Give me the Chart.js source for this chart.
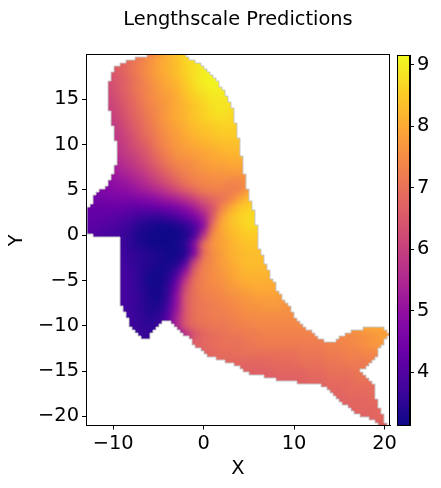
<!DOCTYPE html>
<html>
<head>
    <title>Lengthscale Predictions</title>
    <script src="https://cdn.jsdelivr.net/npm/chart.js"></script>
    <style>
        html, body { margin: 0; padding: 0; background: #fff; }
        .plot { position: relative; width: 441px; height: 488px; overflow: hidden; }
        canvas { position: absolute; left: 0; top: 0; }
    </style>
</head>
<body>
    <div class="plot">
        <canvas id="field" width="441" height="488"></canvas>
        <canvas id="colorbar" width="441" height="488"></canvas>
    </div>

    <script>
        const xTicks = [-10, 0, 10, 20];
        const yTicks = [-20, -15, -10, -5, 0, 5, 10, 15];
        const barTicks = [4, 5, 6, 7, 8, 9];
        const valueMin = 3.13;
        const valueMax = 9.16;

        // plasma colormap, evenly spaced stops
        const plasma = ['#0d0887', '#41049d', '#6a00a8', '#8f0da4', '#b12a90', '#cc4778', '#e16462', '#f2844b', '#fca636', '#fcce25', '#f0f921'];

        // predictions: one row per y, first value sits at rowStart
        const rowY = [20, 19, 18, 17, 16, 15, 14, 13, 12, 11, 10, 9, 8, 7, 6, 5, 4, 3, 2, 1, 0, -1, -2, -3, -4, -5, -6, -7, -8, -9, -10, -11, -12, -13, -14, -15, -16, -17, -18, -19, -20, -21];
        const rowStart = [-7, -10, -11, -11, -11, -11, -11, -11, -11, -11, -11, -11, -11, -11, -13, -13, -13, -13, -13, -13, -13, -13, -10, -10, -10, -10, -10, -10, -10, -10, -9, -8, -7, -2, 0, 2, 4, 9, 13, 14, 16, 18];
        const rowValues = [
            [6.9, 7.3, 7.7, 8.1, 8.4, 8.7, 8.9],
            [6.6, 6.8, 7.0, 7.3, 7.6, 7.9, 8.1, 8.3, 8.6, 8.8, 9.0, 9.0],
            [6.3, 6.5, 6.7, 7.0, 7.3, 7.6, 7.9, 8.1, 8.3, 8.6, 8.8, 9.0, 9.1, 9.1],
            [6.2, 6.4, 6.6, 6.9, 7.2, 7.5, 7.8, 8.0, 8.2, 8.5, 8.8, 9.0, 9.1, 9.1, 9.0],
            [6.1, 6.3, 6.6, 6.9, 7.2, 7.4, 7.7, 7.9, 8.1, 8.4, 8.7, 8.9, 9.0, 9.0, 8.9],
            [6.0, 6.2, 6.5, 6.8, 7.1, 7.4, 7.6, 7.8, 8.0, 8.3, 8.5, 8.7, 8.9, 8.9, 8.9, 8.8],
            [5.9, 6.1, 6.4, 6.7, 7.0, 7.3, 7.5, 7.8, 8.0, 8.2, 8.4, 8.6, 8.8, 8.9, 8.8, 8.7],
            [5.8, 6.0, 6.3, 6.6, 6.9, 7.2, 7.5, 7.8, 8.0, 8.2, 8.4, 8.6, 8.7, 8.8, 8.7, 8.7, 8.6],
            [5.7, 5.9, 6.1, 6.5, 6.8, 7.1, 7.4, 7.7, 7.9, 8.1, 8.3, 8.4, 8.5, 8.6, 8.6, 8.5, 8.5],
            [5.6, 5.8, 6.0, 6.3, 6.7, 7.0, 7.3, 7.6, 7.8, 8.0, 8.2, 8.3, 8.4, 8.5, 8.5, 8.5, 8.4],
            [5.5, 5.7, 5.9, 6.2, 6.5, 6.8, 7.2, 7.5, 7.7, 7.9, 8.0, 8.1, 8.2, 8.3, 8.3, 8.3, 8.3],
            [5.4, 5.6, 5.8, 6.0, 6.3, 6.6, 7.0, 7.3, 7.6, 7.7, 7.8, 7.9, 8.0, 8.1, 8.2, 8.2, 8.2],
            [5.3, 5.4, 5.6, 5.8, 6.1, 6.4, 6.8, 7.1, 7.4, 7.5, 7.6, 7.8, 7.9, 7.9, 8.0, 8.0, 8.0, 8.0],
            [5.1, 5.2, 5.4, 5.6, 5.8, 6.1, 6.5, 6.8, 7.1, 7.3, 7.5, 7.6, 7.7, 7.7, 7.8, 7.8, 7.7, 7.7],
            [4.8, 4.8, 4.8, 5.0, 5.1, 5.3, 5.5, 5.8, 6.1, 6.4, 6.8, 7.1, 7.3, 7.4, 7.5, 7.5, 7.4, 7.4, 7.6, 7.7],
            [4.6, 4.6, 4.7, 4.8, 4.9, 5.0, 5.2, 5.4, 5.6, 5.9, 6.3, 6.6, 6.9, 7.2, 7.3, 7.3, 7.2, 7.3, 7.7, 8.1],
            [4.5, 4.5, 4.5, 4.6, 4.6, 4.6, 4.7, 4.8, 5.0, 5.2, 5.4, 5.7, 6.1, 6.5, 6.8, 7.0, 7.3, 7.9, 8.3, 8.4],
            [4.3, 4.3, 4.3, 4.3, 4.3, 4.2, 4.2, 4.2, 4.3, 4.4, 4.6, 4.9, 5.3, 5.9, 6.4, 7.3, 8.0, 8.4, 8.6, 8.6],
            [4.2, 4.2, 4.2, 4.1, 4.0, 3.9, 3.7, 3.6, 3.6, 3.7, 3.9, 4.2, 4.6, 5.2, 6.5, 7.8, 8.3, 8.6, 8.7, 8.7],
            [4.1, 4.1, 4.0, 3.9, 3.8, 3.6, 3.4, 3.3, 3.2, 3.2, 3.3, 3.5, 3.9, 4.8, 7.0, 8.0, 8.3, 8.5, 8.7, 8.7, 8.5],
            [4.1, 4.0, 3.9, 3.8, 3.7, 3.5, 3.3, 3.2, 3.15, 3.13, 3.15, 3.3, 3.8, 5.6, 7.5, 7.9, 8.2, 8.4, 8.5, 8.5, 8.4],
            [4.0, 3.9, 3.9, 3.8, 3.7, 3.5, 3.3, 3.2, 3.15, 3.13, 3.2, 3.5, 4.8, 7.0, 7.6, 7.9, 8.1, 8.3, 8.4, 8.4, 8.3, 8.2],
            [3.8, 3.7, 3.6, 3.5, 3.4, 3.3, 3.2, 3.2, 3.4, 4.6, 6.9, 7.5, 7.8, 8.1, 8.2, 8.3, 8.3, 8.3, 8.2],
            [3.8, 3.8, 3.6, 3.5, 3.4, 3.3, 3.2, 3.3, 3.9, 6.1, 7.2, 7.5, 7.8, 8.0, 8.2, 8.3, 8.3, 8.2, 8.1],
            [3.9, 3.8, 3.7, 3.5, 3.3, 3.2, 3.3, 3.7, 5.0, 6.7, 7.3, 7.5, 7.7, 7.9, 8.1, 8.2, 8.2, 8.2, 8.1],
            [3.9, 3.8, 3.7, 3.5, 3.2, 3.2, 3.4, 4.2, 5.8, 7.0, 7.3, 7.5, 7.6, 7.8, 8.0, 8.1, 8.1, 8.1, 8.0, 8.0],
            [3.9, 3.8, 3.7, 3.5, 3.3, 3.2, 3.5, 4.6, 6.3, 7.0, 7.3, 7.4, 7.5, 7.7, 7.8, 7.9, 8.0, 8.0, 8.0, 7.9],
            [3.9, 3.8, 3.7, 3.6, 3.3, 3.2, 3.6, 4.9, 6.5, 7.0, 7.2, 7.3, 7.4, 7.5, 7.6, 7.7, 7.8, 7.8, 7.8, 7.7, 7.7],
            [3.9, 3.8, 3.7, 3.5, 3.4, 3.3, 3.8, 5.0, 6.5, 7.0, 7.1, 7.2, 7.3, 7.4, 7.5, 7.6, 7.6, 7.7, 7.7, 7.6, 7.6, 7.6],
            [3.9, 3.8, 3.7, 3.6, 3.4, 3.5, 4.0, 5.3, 6.5, 7.0, 7.1, 7.2, 7.2, 7.3, 7.4, 7.5, 7.5, 7.5, 7.5, 7.5, 7.5, 7.5, 7.5],
            [3.8, 3.7, 3.6, 3.5, 3.6, 4.3, 5.5, 6.5, 6.9, 7.0, 7.1, 7.1, 7.2, 7.3, 7.3, 7.4, 7.4, 7.4, 7.4, 7.4, 7.4, 7.4, 7.5, 7.6, 7.7, 7.8, 7.9, 8.0, 8.0, 8.0, 8.0],
            [3.7, 3.6, 3.6, 3.6, 3.8, 4.5, 5.6, 6.4, 6.8, 6.9, 7.0, 7.1, 7.1, 7.2, 7.2, 7.3, 7.3, 7.3, 7.3, 7.3, 7.3, 7.3, 7.3, 7.4, 7.4, 7.5, 7.6, 7.7, 7.8, 7.9],
            [3.6, 3.6, 3.7, 4.4, 5.6, 6.4, 6.7, 6.8, 6.9, 7.0, 7.0, 7.0, 7.1, 7.2, 7.2, 7.2, 7.2, 7.2, 7.2, 7.2, 7.2, 7.3, 7.3, 7.4, 7.5, 7.6, 7.7, 7.8],
            [6.4, 6.6, 6.7, 6.8, 6.9, 6.9, 7.0, 7.0, 7.0, 7.0, 7.0, 7.0, 7.0, 7.1, 7.1, 7.1, 7.2, 7.2, 7.3, 7.3, 7.4, 7.4],
            [6.7, 6.8, 6.8, 6.8, 6.8, 6.8, 6.8, 6.8, 6.9, 6.9, 6.9, 7.0, 7.0, 7.0, 7.1, 7.1, 7.2, 7.2, 7.2, 7.3],
            [6.7, 6.7, 6.7, 6.7, 6.7, 6.7, 6.8, 6.8, 6.8, 6.8, 6.9, 6.9, 7.0, 7.0, 7.0, 7.1, 7.1],
            [6.6, 6.6, 6.6, 6.6, 6.6, 6.7, 6.7, 6.7, 6.8, 6.8, 6.9, 6.9, 6.9, 7.0, 7.0, 7.0],
            [6.6, 6.6, 6.7, 6.7, 6.7, 6.8, 6.8, 6.9, 6.9, 6.9, 6.9],
            [6.7, 6.7, 6.7, 6.8, 6.8, 6.8, 6.9, 6.9],
            [6.7, 6.7, 6.7, 6.8, 6.8, 6.8, 6.9],
            [6.7, 6.7, 6.7, 6.8, 6.8, 6.8],
            [6.7, 6.7, 6.8, 6.8]
        ];

        // whale outline, clockwise from the top of the head
        const outlineX = [-6.1, -1.8, -0.6, 0.5, 1.6, 2.4, 3.2, 3.7, 4.05, 4.4, 4.7, 5.15, 5.6, 6.05, 6.15, 7.7, 8.25, 9.25, 9.9, 11.0, 12.1, 13.4, 14.3, 15.1, 16.5, 18.1, 19.8, 20.5, 20.3, 19.3, 19.0, 17.3, 18.1, 18.8, 19.1, 19.5, 20.4, 19.2, 17.9, 16.5, 15.1, 13.8, 13.1, 10.7, 8.25, 6.8, 4.8, 2.6, 0.5, -0.9, -2.2, -3.45, -3.9, -4.2, -6.4, -7.0, -8.1, -9.0, -9.3, -9.3, -9.1, -9.1, -9.4, -12.0, -12.85, -12.85, -12.0, -10.1, -10.0, -9.6, -9.75, -10.1, -10.3, -10.5, -10.5, -10.0, -9.0, -7.9];
        const outlineY = [19.9, 19.9, 19.1, 18.2, 16.9, 15.8, 14.0, 11.8, 9.7, 7.7, 5.7, 4.2, 2.4, 0.2, -1.3, -5.0, -6.1, -7.4, -8.5, -9.9, -10.7, -11.6, -11.9, -11.3, -10.5, -10.2, -10.2, -10.7, -11.3, -12.4, -13.6, -14.8, -15.7, -16.3, -17.9, -19.1, -21, -20.9, -20.2, -19.5, -18.4, -17.1, -16.6, -16.3, -16.0, -15.7, -15.2, -14.1, -13.4, -12.4, -11.0, -9.9, -9.3, -9.3, -11.6, -11.5, -10.2, -8.3, -7.1, -2.8, -2.55, -1.3, -0.2, -0.2, 0.3, 2.4, 4.4, 6.1, 7.5, 7.7, 10.5, 12.0, 13.6, 13.8, 16.8, 18.0, 19.1, 19.4];

        function plasmaColor(v) {
            const t = Math.min(1, Math.max(0, (v - valueMin) / (valueMax - valueMin))) * (plasma.length - 1);
            const i = Math.min(plasma.length - 2, Math.floor(t));
            const a = parseInt(plasma[i].slice(1), 16);
            const b = parseInt(plasma[i + 1].slice(1), 16);
            const mix = (shift) => {
                const ca = (a >> shift) & 255;
                const cb = (b >> shift) & 255;
                return Math.round(ca + (cb - ca) * (t - i));
            };
            return `rgb(${mix(16)}, ${mix(8)}, ${mix(0)})`;
        }

        const cells = [];
        rowValues.forEach((row, r) => {
            row.forEach((v, c) => cells.push({ x: rowStart[r] + c, y: rowY[r], v: v }));
        });

        const fontFamily = '"DejaVu Sans", sans-serif';
        const fontSize = 19.4;
        const minus = (v) => String(v).replace('-', '\u2212');

        // the mask in the reference is pixelated, so walk the outline in 3px stairs
        function outlinePath(chart) {
            const ctx = chart.ctx;
            const snap = (p) => Math.round(p / 3) * 3;
            const px = outlineX.map((x) => chart.scales.x.getPixelForValue(x));
            const py = outlineY.map((y) => chart.scales.y.getPixelForValue(y));
            ctx.beginPath();
            ctx.moveTo(snap(px[0]), snap(py[0]));
            let lastX = snap(px[0]);
            px.forEach((_, i) => {
                const j = (i + 1) % px.length;
                const n = Math.max(1, Math.ceil(Math.max(Math.abs(px[j] - px[i]), Math.abs(py[j] - py[i])) / 3));
                for (let k = 1; k <= n; k++) {
                    const sx = snap(px[i] + (px[j] - px[i]) * k / n);
                    const sy = snap(py[i] + (py[j] - py[i]) * k / n);
                    ctx.lineTo(lastX, sy);
                    ctx.lineTo(sx, sy);
                    lastX = sx;
                }
            });
            ctx.closePath();
        }

        // cut the drawn cells to the whale and smooth them, like imshow interpolation
        const whaleMask = {
            id: 'whaleMask',
            afterDatasetsDraw(chart) {
                const ctx = chart.ctx;
                const a = chart.chartArea;
                const ratio = chart.currentDevicePixelRatio;
                const copy = document.createElement('canvas');
                copy.width = chart.canvas.width;
                copy.height = chart.canvas.height;
                copy.getContext('2d').drawImage(chart.canvas, a.left * ratio, a.top * ratio, a.width * ratio, a.height * ratio, a.left, a.top, a.width, a.height);
                ctx.clearRect(a.left, a.top, a.width, a.height);
                ctx.save();
                ctx.beginPath();
                ctx.rect(a.left, a.top, a.width, a.height);
                ctx.clip();
                outlinePath(chart);
                ctx.save();
                ctx.clip();
                ctx.drawImage(copy, 0, 0);
                ctx.filter = 'blur(3.5px)';
                ctx.drawImage(copy, 0, 0);
                ctx.restore();
                outlinePath(chart);
                ctx.strokeStyle = '#c8c8c8';
                ctx.lineWidth = 1;
                ctx.stroke();
                ctx.restore();
            }
        };

        // pixel-aligned box around each axes
        const frame = {
            id: 'frame',
            afterDraw(chart) {
                const a = chart.chartArea;
                const ctx = chart.ctx;
                const left = Math.floor(a.left) + 0.5;
                const top = Math.floor(a.top) + 0.5;
                const right = Math.floor(a.right - 0.5) + 0.5;
                const bottom = Math.floor(a.bottom - 0.5) + 0.5;
                ctx.save();
                ctx.strokeStyle = '#000';
                ctx.lineWidth = 1;
                ctx.strokeRect(left, top, right - left, bottom - top);
                ctx.restore();
            }
        };

        const tickStyle = { color: '#000', padding: 3, font: { family: fontFamily, size: fontSize }, maxRotation: 0, autoSkip: false };
        const gridStyle = { drawOnChartArea: false, tickLength: 4, tickColor: '#000', tickWidth: 1 };

        new Chart(document.getElementById('field'), {
            type: 'scatter',
            data: {
                datasets: [{
                    data: cells,
                    pointStyle: 'rect',
                    pointRadius: (c) => (c.chart.scales.x.getPixelForValue(1) - c.chart.scales.x.getPixelForValue(0)) * 0.75,
                    pointBorderWidth: 0,
                    pointBackgroundColor: (c) => plasmaColor(c.raw.v)
                }]
            },
            options: {
                responsive: false,
                animation: false,
                events: [],
                layout: { padding: { left: 0, right: 51, top: 0, bottom: 0 } },
                plugins: {
                    legend: { display: false },
                    tooltip: { enabled: false },
                    title: {
                        display: true,
                        text: 'Lengthscale Predictions',
                        fullSize: false,
                        color: '#000',
                        font: { family: fontFamily, size: fontSize, weight: 'normal' },
                        padding: { top: 8, bottom: 23.7 }
                    }
                },
                scales: {
                    x: {
                        type: 'linear',
                        min: -13,
                        max: 20.6,
                        afterBuildTicks: (ax) => { ax.ticks = xTicks.map((v) => ({ value: v })); },
                        afterFit: (ax) => { ax.height = 62.5; },
                        ticks: { ...tickStyle, callback: minus },
                        grid: gridStyle,
                        border: { color: '#000' },
                        title: { display: true, text: 'X', color: '#000', font: { family: fontFamily, size: fontSize }, padding: { top: 0, bottom: 7 } }
                    },
                    y: {
                        type: 'linear',
                        min: -21,
                        max: 19.9,
                        afterBuildTicks: (ax) => { ax.ticks = yTicks.map((v) => ({ value: v })); },
                        afterFit: (ax) => { ax.width = 86; },
                        ticks: { ...tickStyle, callback: minus },
                        grid: gridStyle,
                        border: { color: '#000' },
                        title: { display: true, text: 'Y', color: '#000', font: { family: fontFamily, size: fontSize }, padding: { top: 5.5, bottom: 0 } }
                    }
                }
            },
            plugins: [whaleMask, frame]
        });

        new Chart(document.getElementById('colorbar'), {
            type: 'bar',
            data: {
                labels: [''],
                datasets: [{
                    data: [[valueMin, valueMax]],
                    barPercentage: 1,
                    categoryPercentage: 1,
                    borderWidth: 0,
                    backgroundColor: (c) => {
                        const a = c.chart.chartArea;
                        if (!a) return plasma[0];
                        const grad = c.chart.ctx.createLinearGradient(0, a.bottom, 0, a.top);
                        plasma.forEach((color, i) => grad.addColorStop(i / (plasma.length - 1), color));
                        return grad;
                    }
                }]
            },
            options: {
                responsive: false,
                animation: false,
                events: [],
                layout: { padding: { left: 397, right: 0, top: 55, bottom: 62.5 } },
                plugins: { legend: { display: false }, tooltip: { enabled: false } },
                scales: {
                    x: { display: false },
                    y: {
                        position: 'right',
                        min: valueMin,
                        max: valueMax,
                        afterBuildTicks: (ax) => { ax.ticks = barTicks.map((v) => ({ value: v })); },
                        afterFit: (ax) => { ax.width = 31; },
                        ticks: tickStyle,
                        grid: gridStyle,
                        border: { color: '#000' }
                    }
                }
            },
            plugins: [frame]
        });
    </script>
</body>
</html>
